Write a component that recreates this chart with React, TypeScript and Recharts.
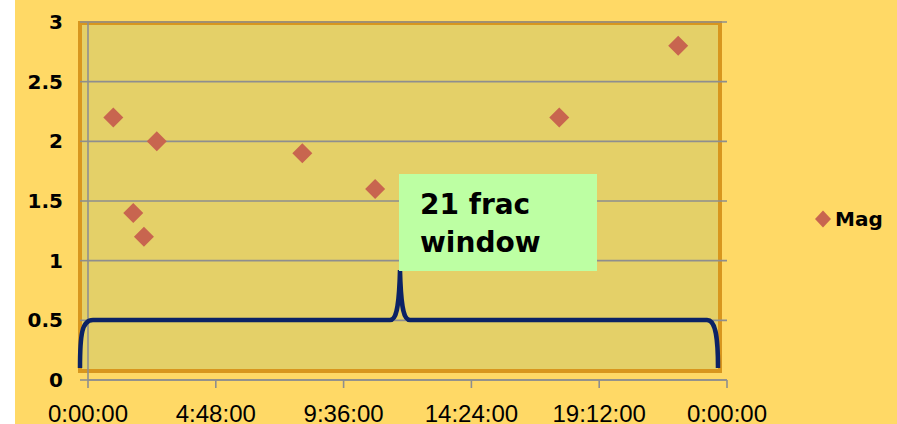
import React from 'react';
import { ScatterChart, Scatter, XAxis, YAxis, CartesianGrid } from 'recharts';

// observation times (h:mm) and magnitudes
const times = ['0:57', '1:42', '2:06', '2:35', '8:03', '10:47', '17:42', '22:10'];
const mags = [2.2, 1.4, 1.2, 2.0, 1.9, 1.6, 2.2, 2.8];

const xTicks = [0, 0.2, 0.4, 0.6, 0.8, 1];
const yTicks = [0, 0.5, 1, 1.5, 2, 2.5, 3];

const seriesName = 'Mag';
const noteLines = ['21 frac', 'window'];

const toDay = (t: string) => {
  const [h, m] = t.split(':').map(Number);
  return (h * 60 + m) / 1440;
};

const data = times.map((t, i) => ({ t: toDay(t), mag: mags[i] }));

const fmtTime = (v: number) => {
  const s = Math.round(v * 86400) % 86400;
  const h = Math.floor(s / 3600);
  const m = Math.floor((s % 3600) / 60);
  const sec = s % 60;
  return `${h}:${String(m).padStart(2, '0')}:${String(sec).padStart(2, '0')}`;
};

const MARK = '#C8654F';
const GRID = '#8E8E8E';

const Diamond = (props: any) => {
  const { cx, cy } = props;
  const r = 10;
  return (
    <polygon
      points={`${cx},${cy - r} ${cx + r},${cy} ${cx},${cy + r} ${cx - r},${cy}`}
      fill={MARK}
    />
  );
};

export default function App() {
  return (
    <div style={{ position: 'absolute', left: 0, top: 0, width: 897, height: 424, background: '#fff' }}>
      <div style={{ position: 'absolute', left: 15, top: 0, width: 882, height: 424, background: '#FFD966' }} />
      {/* plot area shape */}
      <div
        style={{
          position: 'absolute',
          left: 78,
          top: 21,
          width: 636,
          height: 344,
          background: '#E4D068',
          border: '4px solid #D8961E',
        }}
      />
      <div style={{ position: 'absolute', left: 0, top: 0 }}>
        <ScatterChart width={897} height={424} margin={{ top: 22, right: 170, bottom: 0, left: 0 }}>
          <CartesianGrid vertical={false} stroke={GRID} strokeWidth={1.6} />
          <XAxis
            type="number"
            dataKey="t"
            domain={[0, 1]}
            ticks={xTicks}
            tickFormatter={fmtTime}
            height={44}
            tickSize={8}
            tickMargin={17}
            stroke={GRID}
            strokeWidth={1.6}
            tick={{ fill: '#000', fontSize: 24, fontFamily: 'Liberation Sans, Arial, sans-serif' }}
            interval={0}
          />
          <YAxis
            type="number"
            dataKey="mag"
            domain={[0, 3]}
            ticks={yTicks}
            width={88}
            tickSize={8}
            tickMargin={17}
            stroke={GRID}
            strokeWidth={1.6}
            tick={{ fill: '#000', fontSize: 20, fontWeight: 'bold', fontFamily: 'DejaVu Sans, sans-serif' }}
            interval={0}
          />
          <Scatter name={seriesName} data={data} shape={<Diamond />} isAnimationActive={false} />
        </ScatterChart>
      </div>
      {/* brace annotation */}
      <svg width={897} height={424} style={{ position: 'absolute', left: 0, top: 0, pointerEvents: 'none' }}>
        <path
          d="M 80 368 C 80 334, 82 320, 93 320 L 390 320 C 396 320, 399 310, 400 270 C 401 310, 404 320, 410 320 L 707 320 C 715 320, 718 334, 718 368"
          fill="none"
          stroke="#0B2265"
          strokeWidth={4.5}
        />
      </svg>
      <div
        style={{
          position: 'absolute',
          left: 399,
          top: 174,
          width: 198,
          height: 97,
          background: '#BDFFA3',
          boxSizing: 'border-box',
          paddingLeft: 21,
          paddingTop: 12,
          fontFamily: 'DejaVu Sans, sans-serif',
          fontWeight: 'bold',
          fontSize: 28,
          lineHeight: '38px',
          color: '#000',
        }}
      >
        {noteLines.map((l) => (
          <div key={l}>{l}</div>
        ))}
      </div>
      {/* legend */}
      <div
        style={{
          position: 'absolute',
          left: 813,
          top: 207,
          display: 'flex',
          alignItems: 'center',
          fontFamily: 'DejaVu Sans, sans-serif',
          fontWeight: 'bold',
          fontSize: 20,
        }}
      >
        <svg width={20} height={24}>
          <polygon points="10,3.5 18,12 10,20.5 2,12" fill={MARK} />
        </svg>
        <span style={{ marginLeft: 2 }}>{seriesName}</span>
      </div>
    </div>
  );
}
